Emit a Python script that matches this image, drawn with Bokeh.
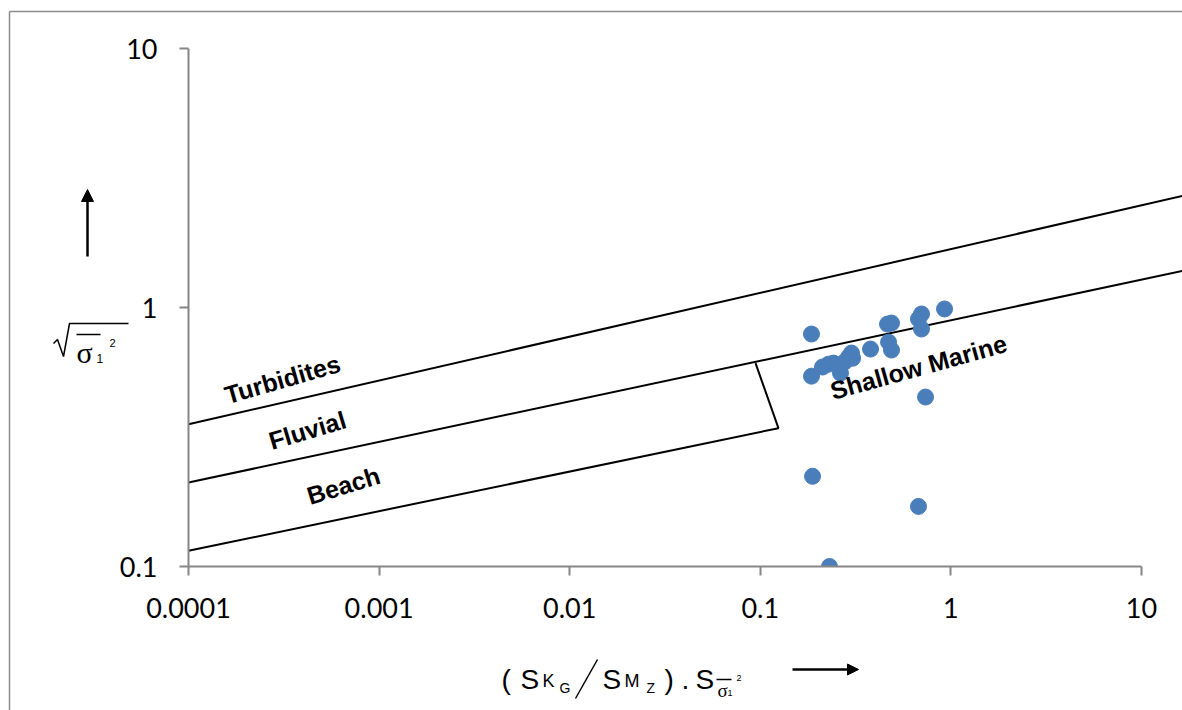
import math
from bokeh.plotting import figure
from bokeh.layouts import column
from bokeh.models import (Range1d, FixedTicker, CustomJSTickFormatter, Arrow,
                          NormalHead, ColumnDataSource, InlineStyleSheet)
from bokeh.core.properties import value
from bokeh.embed import file_html
from bokeh.resources import INLINE

# ---------------- data ----------------
sample_x = [0.1856, 0.1856, 0.188, 0.212, 0.228, 0.242, 0.2635, 0.2766, 0.2903, 0.301,
            0.305, 0.3787, 0.465, 0.488, 0.471, 0.488, 0.676, 0.701, 0.701, 0.926,
            0.736, 0.676, 0.2307]
sample_y = [0.79, 0.543, 0.223, 0.589, 0.604, 0.61, 0.558, 0.616, 0.643, 0.667,
            0.637, 0.691, 0.863, 0.871, 0.735, 0.685, 0.903, 0.944, 0.826, 0.987,
            0.451, 0.1706, 0.1]

turbidite_x = [1e-4, 20]
turbidite_y = [0.354, 2.79]
fluvial_x = [1e-4, 20]
fluvial_y = [0.211, 1.428]
beach_x = [1e-4, 0.1245, 0.0944]
beach_y = [0.115, 0.342, 0.61]

zone_names = ["Turbidites", "Fluvial", "Beach", "Shallow Marine"]
zone_x = [3.11e-4, 4.2e-4, 6.5e-4, 0.676]
zone_y = [0.529, 0.336, 0.2057, 0.589]
zone_angle_deg = [16, 16.5, 17, 15.5]

x_ticks = [1e-4, 1e-3, 1e-2, 0.1, 1, 10]
y_ticks = [0.1, 1, 10]

# ---------------- main chart ----------------
W, H = 1182, 710
LEFT, TOP, BOTTOM = 188, 48, 566
decade_px = (1141 - 188) / 5.0
x_end = 10 ** (-4 + (W - LEFT) / decade_px)

p = figure(width=W, height=H, x_axis_type="log", y_axis_type="log",
           x_range=Range1d(1e-4, x_end), y_range=Range1d(0.1, 10),
           output_backend="svg", toolbar_location=None,
           min_border_left=LEFT, min_border_right=0, min_border_top=TOP,
           min_border_bottom=H - BOTTOM)
p.frame_align = False
p.outline_line_color = None
p.grid.visible = False
p.background_fill_color = "white"
p.border_fill_color = "white"

fmt = CustomJSTickFormatter(code="return tick.toString();")
for ax, ticks in ((p.xaxis[0], x_ticks), (p.yaxis[0], y_ticks)):
    ax.ticker = FixedTicker(ticks=ticks)
    ax.formatter = fmt
    ax.axis_line_color = "#868686"
    ax.axis_line_width = 2
    ax.major_tick_line_color = "#868686"
    ax.major_tick_line_width = 2
    ax.major_tick_in = 0
    ax.major_tick_out = 9
    ax.minor_tick_line_color = None
    ax.major_label_text_font = "Lato"
    ax.major_label_text_font_size = "27px"
    ax.major_label_text_color = "black"
p.xaxis[0].bounds = (1e-4, 10)
p.xaxis[0].major_label_standoff = 22
p.yaxis[0].major_label_standoff = 22

p.line(turbidite_x, turbidite_y, line_color="black", line_width=2)
p.line(fluvial_x, fluvial_y, line_color="black", line_width=2)
p.line(beach_x, beach_y, line_color="black", line_width=2)

p.scatter(sample_x, sample_y, size=16, fill_color="#4A7EBB", line_color="#4A7EBB")

zsrc = ColumnDataSource(dict(x=zone_x, y=zone_y, t=zone_names,
                             a=[math.radians(a) for a in zone_angle_deg]))
p.text(x="x", y="y", text="t", angle="a", source=zsrc, text_align="center",
       text_baseline="middle", text_font=value("Liberation Sans"),
       text_font_style="bold", text_font_size="25px", text_color="black")

# ---------------- overlay for the axis titles and frame border ----------------
q = figure(width=W, height=H, x_range=Range1d(0, W), y_range=Range1d(H, 0),
           output_backend="svg", toolbar_location=None, min_border=0,
           x_axis_location=None, y_axis_location=None)
q.frame_align = False
q.grid.visible = False
q.outline_line_color = None
q.background_fill_color = None
q.border_fill_color = None
q.stylesheets = [InlineStyleSheet(css=(
    ":host{position:absolute !important;left:0 !important;top:0 !important;"
    "z-index:10 !important;pointer-events:none !important;}"))]

# title pieces: text, left x, baseline y, size, font
pieces = [
    # y title
    ("σ", 76, 352, 30, "Liberation Serif"),
    ("1", 96, 358, 12, "Liberation Sans"),
    ("2", 109, 342, 11, "Liberation Sans"),
    # x title
    ("(", 501, 679, 28, "Liberation Sans"),
    ("S", 520, 679, 28, "Liberation Sans"),
    ("K", 542, 680, 18, "Liberation Sans"),
    ("G", 559, 687, 14, "Liberation Sans"),
    ("S", 602, 679, 28, "Liberation Sans"),
    ("M", 624, 680, 18, "Liberation Sans"),
    ("Z", 646, 687, 14, "Liberation Sans"),
    (")", 664, 679, 28, "Liberation Sans"),
    (".", 681, 679, 28, "Liberation Sans"),
    ("S", 695, 679, 28, "Liberation Sans"),
    ("σ", 717, 690, 19, "Liberation Serif"),
    ("1", 727, 692, 9, "Liberation Sans"),
    ("2", 736, 677, 9, "Liberation Sans"),
]
tsrc = ColumnDataSource(dict(t=[a[0] for a in pieces], x=[a[1] for a in pieces],
                             y=[a[2] for a in pieces],
                             s=[f"{a[3]}px" for a in pieces],
                             f=[a[4] for a in pieces]))
q.text(x="x", y="y", text="t", text_font_size="s", text_font="f", source=tsrc,
       text_align="left", text_baseline="alphabetic", text_color="black")

strokes_x = [[53, 57, 63, 69, 128], [76, 100], [575, 597], [716, 731]]
strokes_y = [[343, 339, 356, 323, 323], [334, 334], [698, 659], [679, 679]]
q.multi_line(strokes_x, strokes_y, line_color="black", line_width=1.5)

# outer border
q.multi_line([[9, 9], [9, W]], [[H, 11], [11, 11]], line_color="#8c8c8c", line_width=1.5)

q.add_layout(Arrow(x_start=87, y_start=256, x_end=87, y_end=189, line_width=2.5,
                   end=NormalHead(size=12, fill_color="black", line_color="black")))
q.add_layout(Arrow(x_start=792, y_start=669, x_end=858, y_end=669, line_width=2.5,
                   end=NormalHead(size=11, fill_color="black", line_color="black")))

page = column(p, q)
open("out.html", "w").write(file_html(page, INLINE))
